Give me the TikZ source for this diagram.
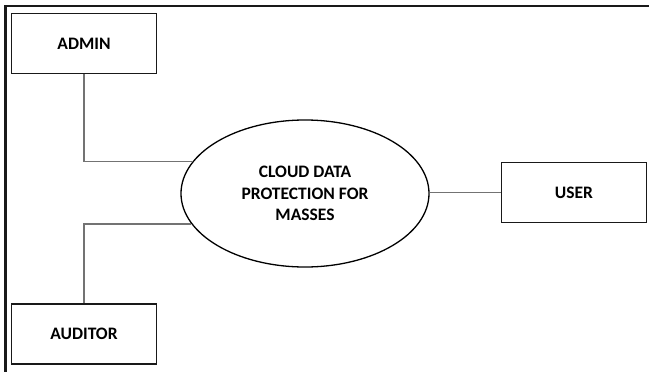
\documentclass[tikz,border=0pt]{standalone}
\usepackage{fontspec}
\setmainfont{Carlito}
\usetikzlibrary{shapes.geometric}
\tikzset{
  entity/.style={draw=black!90, line width=1.6pt, minimum width=145pt, minimum height=60pt,
    inner sep=0pt, font=\bfseries\fontsize{17.5}{21}\selectfont},
  process/.style={draw=black, line width=1.3pt, ellipse, minimum width=248pt, minimum height=147pt,
    inner sep=0pt, align=center, font=\bfseries\fontsize{17.5}{21.7}\selectfont},
  link/.style={draw=black!55, line width=1.1pt},
  frame/.style={draw=black!90, line width=2.6pt}
}
\begin{document}
\begin{tikzpicture}[x=1pt, y=-1pt]
  \useasboundingbox (0,0) rectangle (649,372);
  % partial page frame: top and left edges
  \coordinate (ftl) at (5.2,6);
  \coordinate (ftr) at (649,6);
  \coordinate (fbl) at (5.2,372);
  \draw[frame] (ftr) -- (ftl) -- (fbl);

  \node[entity] (admin) at (84,43.5) {ADMIN};
  \node[entity] (auditor) at (84,334) {AUDITOR};
  \node[entity] (user) at (574,192.5) {USER};
  \node[process] (cloud) at (305,193.5) {CLOUD DATA\\PROTECTION FOR\\MASSES};

  \draw[link] (admin.south) |- (cloud.164.3);
  \draw[link] (auditor.north) |- (cloud.195.7);
  \draw[link] (user.west) -- (user.west -| cloud.east);
\end{tikzpicture}
\end{document}
